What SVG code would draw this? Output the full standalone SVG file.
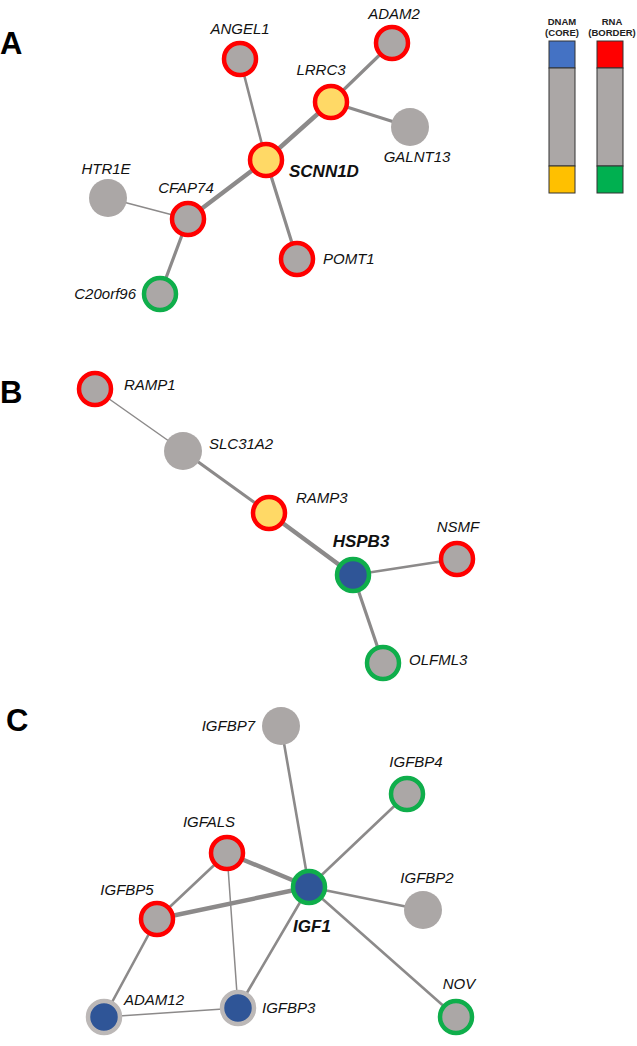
<svg xmlns="http://www.w3.org/2000/svg" width="637" height="1046" viewBox="0 0 637 1046">
<style>
.e{stroke:#8c8a8a;stroke-linecap:round;fill:none}
.w1{stroke-width:1.5}.w2{stroke-width:2.6}.w3{stroke-width:3.2}.w4{stroke-width:4.4}
.n{fill:#aba7a6}
.rb{stroke:#ff0000;stroke-width:4.5}
.gb{stroke:#0fae4b;stroke-width:4.5}
.sb{stroke:#bcb8b7;stroke-width:4.5}
.yf{fill:#ffd966}
.bf{fill:#2f5597}
.t{font-family:"Liberation Sans",Arial,sans-serif;font-style:italic;font-size:15px;fill:#111}
.tb{font-family:"Liberation Sans",Arial,sans-serif;font-style:italic;font-weight:bold;font-size:17px;fill:#111}
.pl{font-family:"Liberation Sans",Arial,sans-serif;font-weight:bold;font-size:31px;fill:#000}
.lg{font-family:"Liberation Sans",Arial,sans-serif;font-weight:bold;font-size:9.5px;fill:#222;text-anchor:middle}
.lr{stroke:#333;stroke-width:1}
</style>
<text class="pl" x="0" y="54">A</text>
<text class="pl" x="0" y="403">B</text>
<text class="pl" x="6" y="731">C</text>
<g id="legend">
<text class="lg" x="562" y="25">DNAM</text>
<text class="lg" x="562" y="36">(CORE)</text>
<text class="lg" x="612" y="25">RNA</text>
<text class="lg" x="612" y="36">(BORDER)</text>
<rect class="lr" x="549" y="41" width="26" height="27" fill="#4472c4"/>
<rect class="lr" x="549" y="68" width="26" height="98" fill="#aba7a6"/>
<rect class="lr" x="549" y="166" width="26" height="27" fill="#ffc000"/>
<rect class="lr" x="597" y="41" width="26" height="27" fill="#ff0000"/>
<rect class="lr" x="597" y="68" width="26" height="98" fill="#aba7a6"/>
<rect class="lr" x="597" y="166" width="26" height="27" fill="#00b050"/>
</g>
<g id="connectors">
<line class="e w2" x1="266" y1="160" x2="240" y2="59"/>
<line class="e w4" x1="266" y1="160" x2="331" y2="102"/>
<line class="e w3" x1="331" y1="102" x2="392" y2="43"/>
<line class="e w3" x1="331" y1="102" x2="410" y2="127"/>
<line class="e w4" x1="266" y1="160" x2="188" y2="219"/>
<line class="e w3" x1="266" y1="160" x2="297" y2="259"/>
<line class="e w1" x1="188" y1="219" x2="108" y2="198"/>
<line class="e w3" x1="188" y1="219" x2="160" y2="294"/>
<line class="e w1" x1="95" y1="389" x2="183" y2="451"/>
<line class="e w3" x1="183" y1="451" x2="269" y2="513"/>
<line class="e w4" x1="269" y1="513" x2="353" y2="575"/>
<line class="e w2" x1="353" y1="575" x2="457" y2="559"/>
<line class="e w3" x1="353" y1="575" x2="383" y2="663"/>
<line class="e w2" x1="309" y1="887" x2="281" y2="726"/>
<line class="e w2" x1="309" y1="887" x2="407" y2="794"/>
<line class="e w4" x1="309" y1="887" x2="227" y2="853"/>
<line class="e w4" x1="309" y1="887" x2="157" y2="919"/>
<line class="e w2" x1="309" y1="887" x2="423" y2="910"/>
<line class="e w2" x1="309" y1="887" x2="238" y2="1008"/>
<line class="e w2" x1="309" y1="887" x2="456" y2="1017"/>
<line class="e w2" x1="227" y1="853" x2="157" y2="919"/>
<line class="e w1" x1="227" y1="853" x2="238" y2="1008"/>
<line class="e w2" x1="157" y1="919" x2="104" y2="1017"/>
<line class="e w1" x1="104" y1="1017" x2="238" y2="1008"/>
</g>
<g id="ANGEL1"><circle class="n rb" cx="240" cy="59" r="16"/><text class="t" x="240" y="34" text-anchor="middle">ANGEL1</text></g>
<g id="ADAM2"><circle class="n rb" cx="392" cy="43" r="16"/><text class="t" x="394" y="19" text-anchor="middle">ADAM2</text></g>
<g id="LRRC3"><circle class="yf rb" cx="331" cy="102" r="16"/><text class="t" x="321" y="75" text-anchor="middle">LRRC3</text></g>
<g id="GALNT13"><circle class="n" cx="410" cy="127" r="19"/><text class="t" x="417" y="162" text-anchor="middle">GALNT13</text></g>
<g id="SCNN1D"><circle class="yf rb" cx="266" cy="160" r="16"/><text class="tb" x="289" y="177">SCNN1D</text></g>
<g id="HTR1E"><circle class="n" cx="108" cy="198" r="19"/><text class="t" x="106" y="174" text-anchor="middle">HTR1E</text></g>
<g id="CFAP74"><circle class="n rb" cx="188" cy="219" r="16"/><text class="t" x="186" y="193" text-anchor="middle">CFAP74</text></g>
<g id="POMT1"><circle class="n rb" cx="297" cy="259" r="16"/><text class="t" x="323" y="264">POMT1</text></g>
<g id="C20orf96"><circle class="n gb" cx="160" cy="294" r="16"/><text class="t" x="136" y="299" text-anchor="end">C20orf96</text></g>
<g id="RAMP1"><circle class="n rb" cx="95" cy="389" r="16"/><text class="t" x="124" y="390">RAMP1</text></g>
<g id="SLC31A2"><circle class="n" cx="183" cy="451" r="19"/><text class="t" x="209" y="449">SLC31A2</text></g>
<g id="RAMP3"><circle class="yf rb" cx="269" cy="513" r="16"/><text class="t" x="296" y="503">RAMP3</text></g>
<g id="HSPB3"><circle class="bf gb" cx="353" cy="575" r="16"/><text class="tb" x="361" y="547" text-anchor="middle">HSPB3</text></g>
<g id="NSMF"><circle class="n rb" cx="457" cy="559" r="16"/><text class="t" x="458" y="532" text-anchor="middle">NSMF</text></g>
<g id="OLFML3"><circle class="n gb" cx="383" cy="663" r="16"/><text class="t" x="409" y="665">OLFML3</text></g>
<g id="IGFBP7"><circle class="n" cx="281" cy="726" r="19"/><text class="t" x="255" y="731" text-anchor="end">IGFBP7</text></g>
<g id="IGFBP4"><circle class="n gb" cx="407" cy="794" r="16"/><text class="t" x="416" y="767" text-anchor="middle">IGFBP4</text></g>
<g id="IGFALS"><circle class="n rb" cx="227" cy="853" r="16"/><text class="t" x="209" y="827" text-anchor="middle">IGFALS</text></g>
<g id="IGF1"><circle class="bf gb" cx="309" cy="887" r="16"/><text class="tb" x="312" y="932" text-anchor="middle">IGF1</text></g>
<g id="IGFBP2"><circle class="n" cx="423" cy="910" r="19"/><text class="t" x="427" y="883" text-anchor="middle">IGFBP2</text></g>
<g id="IGFBP5"><circle class="n rb" cx="157" cy="919" r="16"/><text class="t" x="127" y="895" text-anchor="middle">IGFBP5</text></g>
<g id="ADAM12"><circle class="bf sb" cx="104" cy="1017" r="16"/><text class="t" x="124" y="1005">ADAM12</text></g>
<g id="IGFBP3"><circle class="bf sb" cx="238" cy="1008" r="16"/><text class="t" x="262" y="1013">IGFBP3</text></g>
<g id="NOV"><circle class="n gb" cx="456" cy="1017" r="16"/><text class="t" x="459" y="989" text-anchor="middle">NOV</text></g>
</svg>
